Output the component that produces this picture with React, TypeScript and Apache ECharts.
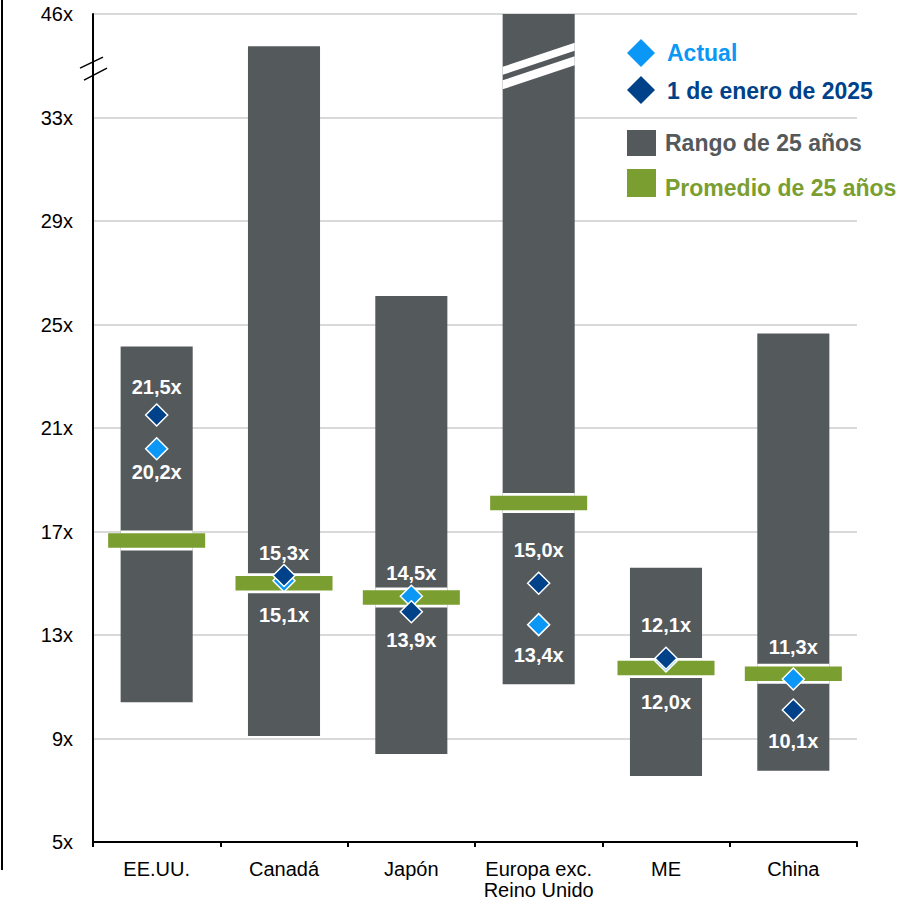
import React, { useEffect, useRef } from "react";
import * as echarts from "echarts";

// ---- data ----
const categories = ["EE.UU.", "Canadá", "Japón", "Europa exc.\nReino Unido", "ME", "China"];
const rangeLow = [10.4, 9.1, 8.4, 11.1, 7.55, 7.75];
const rangeHigh = [24.15, 35.75, 26.1, 37, 15.6, 24.65];
const brokenBar = [false, false, false, true, false, false];
const average25 = [16.65, 15.0, 14.45, 18.1, 11.72, 11.5];
const actual = [20.2, 15.1, 14.5, 13.4, 12.0, 11.3];
const jan2025 = [21.5, 15.3, 13.9, 15.0, 12.1, 10.1];
const yTickValues = [5, 9, 13, 17, 21, 25, 29, 33, 37];
const yTickLabels = ["5x", "9x", "13x", "17x", "21x", "25x", "29x", "33x", "46x"];
const Y_MIN = 5;
const Y_MAX = 37;
const Y_INTERVAL = 4;
const BREAK_VALUE = 34.9;

// ---- label layout (pixel offsets of the value labels from their diamonds) ----
const actualLabelDy = [23, 34, -23, 30, 41, -32];
const janLabelDy = [-28, -22, 28, -33, -33, 31];

// ---- styles ----
const FONT = "'Liberation Sans', Arial, Helvetica, sans-serif";
const GRAY = "#54595c";
const GREEN = "#7a9e2f";
const LIGHT_BLUE = "#0b97f5";
const DARK_BLUE = "#00428a";

const fmt = (v: number) => v.toFixed(1).replace(".", ",") + "x";

function buildOption() {
  const rangeData = categories.map((_, i) => [i, rangeLow[i], rangeHigh[i], brokenBar[i] ? 1 : 0]);
  const avgData = categories.map((_, i) => [i, average25[i]]);

  const labelBase = {
    show: true,
    position: "inside",
    color: "#ffffff",
    fontWeight: "bold",
    fontSize: 20,
    fontFamily: FONT,
    formatter: (p: any) => fmt(p.value[1]),
  };

  return {
    animation: false,
    textStyle: { fontFamily: FONT },
    grid: { left: 93, right: 45, top: 14, bottom: 65, containLabel: false },
    xAxis: {
      type: "category",
      data: categories,
      boundaryGap: true,
      axisLine: { show: true, lineStyle: { color: "#000", width: 2 } },
      axisTick: { show: true, interval: 0, length: 5, lineStyle: { color: "#000", width: 2 } },
      axisLabel: {
        interval: 0,
        color: "#000",
        fontSize: 20,
        fontFamily: FONT,
        margin: 16,
        lineHeight: 21,
      },
      splitLine: { show: false },
    },
    yAxis: {
      type: "value",
      min: Y_MIN,
      max: Y_MAX,
      interval: Y_INTERVAL,
      axisLine: { show: true, lineStyle: { color: "#000", width: 2 } },
      axisTick: { show: false },
      axisLabel: {
        color: "#000",
        fontSize: 20,
        fontFamily: FONT,
        margin: 20,
        formatter: (v: number) => {
          const k = yTickValues.indexOf(v);
          return k >= 0 ? yTickLabels[k] : "";
        },
      },
      splitLine: { show: true, lineStyle: { color: "#d9d9d9", width: 2 } },
    },
    graphic: [
      { type: "rect", shape: { x: 1, y: 0, width: 2, height: 870 }, style: { fill: "#000" }, silent: true },
      // legend
      {
        type: "polygon",
        shape: { points: [[641, 39], [655, 53], [641, 67], [627, 53]] },
        style: { fill: LIGHT_BLUE },
      },
      {
        type: "text",
        x: 667,
        y: 53,
        style: { text: "Actual", fill: LIGHT_BLUE, font: `bold 23px ${FONT}`, verticalAlign: "middle" },
      },
      {
        type: "polygon",
        shape: { points: [[641, 76], [655, 90], [641, 104], [627, 90]] },
        style: { fill: DARK_BLUE },
      },
      {
        type: "text",
        x: 667,
        y: 91,
        style: { text: "1 de enero de 2025", fill: DARK_BLUE, font: `bold 23px ${FONT}`, verticalAlign: "middle" },
      },
      { type: "rect", shape: { x: 627, y: 130, width: 29, height: 26 }, style: { fill: GRAY } },
      {
        type: "text",
        x: 665,
        y: 143,
        style: { text: "Rango de 25 años", fill: GRAY, font: `bold 23px ${FONT}`, verticalAlign: "middle" },
      },
      { type: "rect", shape: { x: 627, y: 169, width: 29, height: 28 }, style: { fill: GREEN } },
      {
        type: "text",
        x: 665,
        y: 188,
        style: { text: "Promedio de 25 años", fill: GREEN, font: `bold 23px ${FONT}`, verticalAlign: "middle" },
      },
    ],
    series: [
      {
        type: "custom",
        name: "Rango de 25 años",
        silent: true,
        encode: { x: 0, y: [1, 2] },
        data: rangeData,
        z: 2,
        renderItem: (params: any, api: any) => {
          const idx = api.value(0);
          const lo = api.coord([idx, api.value(1)]);
          const hi = api.coord([idx, api.value(2)]);
          const band = api.size([1, 0])[0];
          const bw = band * 0.566;
          const children: any[] = [
            {
              type: "rect",
              shape: { x: hi[0] - bw / 2, y: hi[1], width: bw, height: lo[1] - hi[1] },
              style: { fill: GRAY },
            },
          ];
          if (api.value(3) === 1) {
            const mid = api.coord([idx, BREAK_VALUE + 0.1])[1];
            const hw = bw / 2;
            const sl = 0.336 * hw;
            const stripes = [
              { o: -7, t: 8 },
              { o: 7, t: 9 },
            ];
            stripes.forEach((s) => {
              const cl = mid + s.o + sl;
              const cr = mid + s.o - sl;
              children.push({
                type: "polygon",
                shape: {
                  points: [
                    [hi[0] - hw, cl - s.t / 2],
                    [hi[0] + hw, cr - s.t / 2],
                    [hi[0] + hw, cr + s.t / 2],
                    [hi[0] - hw, cl + s.t / 2],
                  ],
                },
                style: { fill: "#ffffff" },
              });
            });
          }
          return { type: "group", children };
        },
      },
      {
        type: "custom",
        name: "Promedio de 25 años",
        silent: true,
        encode: { x: 0, y: 1 },
        data: avgData,
        z: 3,
        renderItem: (params: any, api: any) => {
          const idx = api.value(0);
          const p = api.coord([idx, api.value(1)]);
          const band = api.size([1, 0])[0];
          const bw = band * 0.566;
          const gw = band * 0.762;
          return {
            type: "group",
            children: [
              { type: "rect", shape: { x: p[0] - bw / 2, y: p[1] - 10, width: bw, height: 20 }, style: { fill: "#ffffff" } },
              { type: "rect", shape: { x: p[0] - gw / 2, y: p[1] - 7.25, width: gw, height: 14.5 }, style: { fill: GREEN } },
            ],
          };
        },
      },
      {
        type: "custom",
        name: "axisBreak",
        silent: true,
        data: [[0, BREAK_VALUE]],
        encode: { x: 0, y: 1 },
        z: 10,
        clip: false,
        renderItem: (params: any, api: any) => {
          const p = api.coord([api.value(0), api.value(1)]);
          const band = api.size([1, 0])[0];
          const ax = p[0] - band / 2;
          const my = p[1];
          return {
            type: "group",
            children: [
              { type: "line", shape: { x1: ax - 13, y1: my - 0.25, x2: ax + 10, y2: my - 11.25 }, style: { stroke: "#000", lineWidth: 1.5 } },
              { type: "line", shape: { x1: ax - 9, y1: my + 11.75, x2: ax + 14, y2: my - 0.25 }, style: { stroke: "#000", lineWidth: 1.5 } },
            ],
          };
        },
      },
      {
        type: "scatter",
        name: "Actual",
        silent: true,
        symbol: "diamond",
        symbolSize: 22,
        z: 5,
        itemStyle: { color: LIGHT_BLUE, borderColor: "#ffffff", borderWidth: 1.5, opacity: 1 },
        label: labelBase,
        data: actual.map((v, i) => ({ value: [i, v], label: { offset: [0, actualLabelDy[i]] } })),
      },
      {
        type: "scatter",
        name: "1 de enero de 2025",
        silent: true,
        symbol: "diamond",
        symbolSize: 22,
        z: 6,
        itemStyle: { color: DARK_BLUE, borderColor: "#ffffff", borderWidth: 1.5, opacity: 1 },
        label: labelBase,
        data: jan2025.map((v, i) => ({ value: [i, v], label: { offset: [0, janLabelDy[i]] } })),
      },
    ],
  };
}

export default function App() {
  const ref = useRef<HTMLDivElement>(null);
  useEffect(() => {
    if (!ref.current) return;
    const chart = echarts.init(ref.current, null, { renderer: "svg" });
    chart.setOption(buildOption() as any);
    return () => {
      chart.dispose();
    };
  }, []);
  return (
    <div
      ref={ref}
      style={{ position: "absolute", left: 0, top: 0, width: 902, height: 907, background: "#fff" }}
    />
  );
}
